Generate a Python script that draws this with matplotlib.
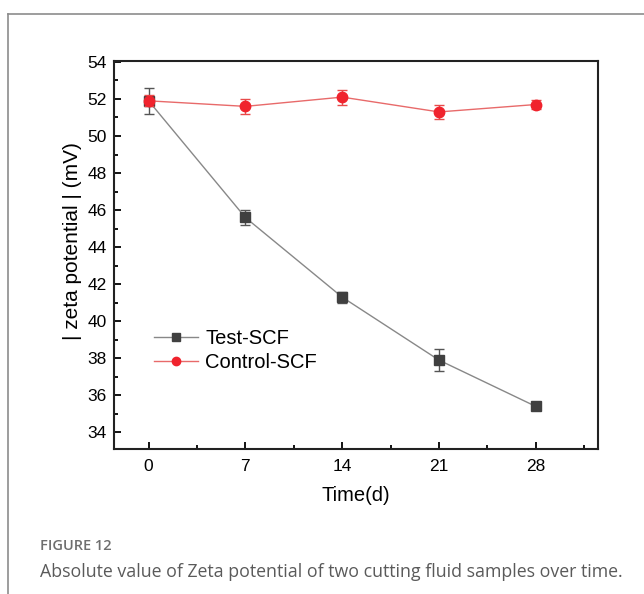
import matplotlib
matplotlib.use("Agg")
import matplotlib.pyplot as plt
from matplotlib.lines import Line2D
from matplotlib.ticker import MultipleLocator

plt.rcParams["font.family"] = ["Liberation Sans", "DejaVu Sans"]

days = [0, 7, 14, 21, 28]
test_scf = [51.9, 45.6, 41.3, 37.9, 35.4]
test_err = [0.7, 0.4, 0.3, 0.6, 0.1]
control_scf = [51.9, 51.6, 52.1, 51.3, 51.7]
control_err = [0.3, 0.4, 0.4, 0.4, 0.25]

W, H = 644, 594
fig = plt.figure(figsize=(W / 100, H / 100), dpi=100)

# outer frame of the figure panel
fig.add_artist(Line2D([8 / W, 1], [1 - 14 / H] * 2, color="#8c8c8c", lw=1.2))
fig.add_artist(Line2D([8 / W] * 2, [0, 1 - 14 / H], color="#8c8c8c", lw=1.2))

ax = fig.add_axes([114 / W, 1 - 449 / H, (598 - 114) / W, (449 - 61) / H])

test_style = dict(color="#888888", lw=1.0, marker="s", mfc="#404040", mec="#404040")
ctrl_style = dict(color="#e86a6a", lw=1.0, marker="o", mfc="#f0232d", mec="#f0232d")

ax.errorbar(days, test_scf, yerr=test_err, ms=7.5, ecolor="#555555",
            elinewidth=1.0, capsize=3.5, capthick=1.0, zorder=2, **test_style)
ax.errorbar(days, control_scf, yerr=control_err, ms=7.5, ecolor="#e84a4a",
            elinewidth=1.0, capsize=3.5, capthick=1.0, zorder=3, **ctrl_style)

ax.set_xlim(-2.5, 32.5)
ax.set_ylim(33.1, 54.05)
ax.set_xticks(days)
ax.xaxis.set_minor_locator(MultipleLocator(3.5))
ax.yaxis.set_major_locator(MultipleLocator(2))
ax.yaxis.set_minor_locator(MultipleLocator(1))
ax.tick_params(which="both", direction="in", width=1.3, labelsize=12.5)
ax.tick_params(which="major", length=5)
ax.tick_params(which="minor", length=3)
ax.tick_params(axis="x", pad=7)
ax.tick_params(axis="y", pad=5)
for sp in ax.spines.values():
    sp.set_linewidth(1.5)
    sp.set_color("#222222")

ax.set_xlabel("Time(d)", fontsize=14.5)
ax.xaxis.set_label_coords(0.5, (449 - 486) / 388)
ax.set_ylabel("| zeta potential | (mV)", fontsize=15)
ax.yaxis.set_label_coords((82 - 114) / 484, 0.535)

handles = [Line2D([], [], ms=5.5, **test_style), Line2D([], [], ms=6, **ctrl_style)]
ax.legend(handles, ["Test-SCF", "Control-SCF"], loc="center left",
          bbox_to_anchor=(0.066, 0.254), frameon=False, fontsize=14.5,
          handlelength=2.2, handletextpad=0.35, labelspacing=0.25,
          borderaxespad=0)

fig.text(40 / W, 1 - 550 / H, "FIGURE 12", family="Open Sans", fontsize=10.5,
         color="#6e6e6e", va="baseline", weight="semibold")
fig.text(40 / W, 1 - 577 / H,
         "Absolute value of Zeta potential of two cutting fluid samples over time.",
         family="Open Sans", fontsize=12.8, color="#5a5a5a", va="baseline")

fig.savefig("out.png", dpi=100)
